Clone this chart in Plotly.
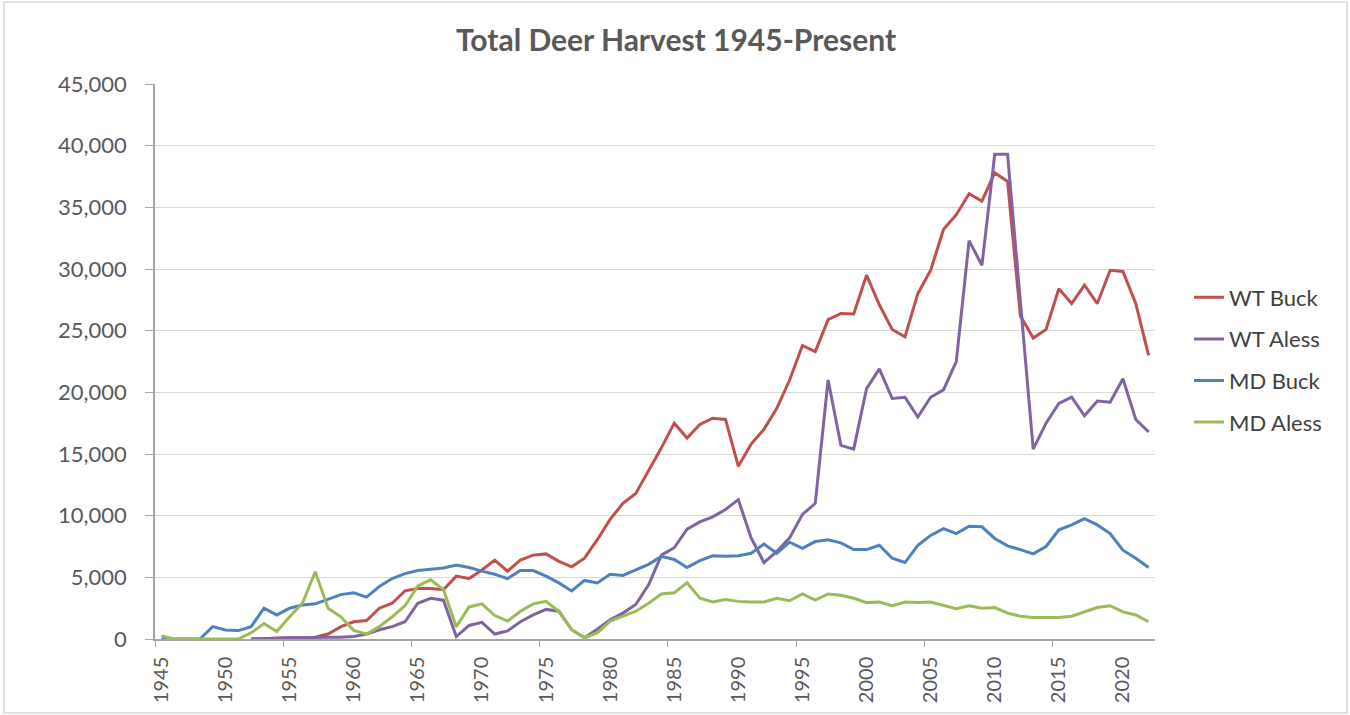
import plotly.graph_objects as go

years = list(range(1945, 2023))

wt_buck = [None, None, None, None, None, None, None,
           0, 50, 100, 100, 100, 150, 400, 1000,               # 1952-1959
           1400, 1500, 2500, 2900, 3900, 4100, 4100, 4000, 5100, 4900,   # 1960-1969
           5600, 6400, 5500, 6400, 6800, 6900, 6300, 5850, 6550, 8050,   # 1970-1979
           9700, 11000, 11800, 13600, 15500, 17500, 16300, 17400, 17900, 17800,  # 1980-1989
           14000, 15800, 17000, 18700, 21000, 23800, 23300, 25900, 26400, 26350,  # 1990-1999
           29500, 27100, 25100, 24500, 28000, 29900, 33200, 34400, 36100, 35500,  # 2000-2009
           37800, 37100, 26200, 24400, 25100, 28400, 27200, 28700, 27200, 29900,  # 2010-2019
           29800, 27200, 23000]                                                    # 2020-2022

wt_aless = [None, None, None, None, None, None, None,
            0, 50, 100, 100, 100, 150, 150, 150,
            200, 400, 750, 1000, 1400, 2900, 3300, 3150, 200, 1100,
            1350, 400, 650, 1400, 1950, 2400, 2250, 750, 100, 800,
            1550, 2100, 2800, 4400, 6800, 7400, 8900, 9500, 9900, 10500,
            11300, 8200, 6200, 7100, 8200, 10100, 11000, 21000, 15700, 15400,
            20300, 21900, 19500, 19600, 18000, 19600, 20200, 22500, 32300, 30300,
            39300, 39300, 27000, 15400, 17500, 19100, 19600, 18100, 19300, 19200,
            21100, 17800, 16800]

md_buck = [0, 0, 0, 0, 1000, 730, 680, 1000, 2500, 1950,
           2500, 2750, 2850, 3200, 3600, 3750, 3400, 4250, 4900, 5300,
           5550, 5650, 5750, 6000, 5800, 5500, 5250, 4900, 5550, 5550,
           5100, 4550, 3900, 4750, 4550, 5250, 5150, 5600, 6050, 6700,
           6450, 5800, 6350, 6750, 6700, 6750, 6950, 7700, 6950, 7850,
           7350, 7900, 8050, 7800, 7250, 7250, 7600, 6550, 6200, 7600,
           8400, 8950, 8550, 9150, 9100, 8150, 7550, 7250, 6900, 7500,
           8850, 9250, 9750, 9250, 8550, 7200, 6550, 5800]

md_aless = [250, 0, 0, 0, 0, 0, 0, 500, 1250, 600,
            1800, 2900, 5450, 2500, 1800, 700, 400, 1000, 1800, 2700,
            4300, 4800, 4000, 1000, 2600, 2850, 1900, 1450, 2250, 2850,
            3050, 2250, 750, 100, 500, 1450, 1850, 2250, 2900, 3650,
            3750, 4550, 3300, 3000, 3200, 3050, 3000, 3000, 3300, 3100,
            3650, 3150, 3650, 3550, 3300, 2950, 3000, 2700, 3000, 2950,
            3000, 2750, 2450, 2700, 2500, 2550, 2100, 1850, 1750, 1750,
            1750, 1850, 2200, 2550, 2700, 2200, 1950, 1400]

series = [("WT Buck", wt_buck, "#C0504D"),
          ("WT Aless", wt_aless, "#8064A2"),
          ("MD Buck", md_buck, "#4F81BD"),
          ("MD Aless", md_aless, "#9BBB59")]

x_ticks = list(range(1945, 2021, 5))
y_ticks = list(range(0, 45001, 5000))

fig = go.Figure()
for i, (name, vals, color) in enumerate(series):
    fig.add_trace(go.Scatter(x=years, y=vals, name=name, mode="lines",
                             line=dict(color=color, width=3),
                             legendgroup=name))

font_family = "Lato, 'Open Sans', sans-serif"
grey = "#595959"

fig.update_layout(
    width=1350, height=715,
    margin=dict(l=155, r=195, t=84, b=76),
    paper_bgcolor="white", plot_bgcolor="white",
    title=dict(text="<b>Total Deer Harvest 1945-Present</b>",
               x=676 / 1350, xref="container", xanchor="center",
               y=1 - 40 / 715, yref="container", yanchor="middle",
               font=dict(family=font_family, size=30, color=grey)),
    font=dict(family=font_family, color=grey),
    legend=dict(x=1.034, xanchor="left", y=(639 - 360) / 555, yanchor="middle",
                font=dict(size=22, color="#404040"),
                tracegroupgap=10, bgcolor="rgba(0,0,0,0)"),
    showlegend=True,
)

fig.update_xaxes(range=[1944.5, 2022.5], tickmode="array", tickvals=x_ticks,
                 ticktext=[str(t) for t in x_ticks], tickangle=-90,
                 tickfont=dict(size=20, color=grey),
                 ticklabelstandoff=8,
                 showgrid=False, zeroline=False, showline=True,
                 linecolor="#A6A6A6", linewidth=1.5, ticks="",
                 minor=dict(tickmode="array",
                            tickvals=[1944.5 + 10 * k for k in range(8)],
                            ticks="outside", ticklen=6, tickcolor="#A6A6A6",
                            showgrid=False))
fig.update_yaxes(range=[0, 45000], tickmode="array", tickvals=y_ticks,
                 ticktext=[f"{v:,}" for v in y_ticks],
                 tickfont=dict(size=22, color=grey),
                 ticklabelstandoff=14,
                 showgrid=True, gridcolor="#D9D9D9", gridwidth=1.2,
                 zeroline=False, showline=True, linecolor="#A6A6A6",
                 linewidth=1.5, ticks="outside", ticklen=8, tickcolor="#A6A6A6")

fig.add_shape(type="rect", xref="paper", yref="paper",
              x0=(4 - 155) / 1000, x1=(1347 - 155) / 1000,
              y0=(639 - 713) / 555, y1=(639 - 2) / 555,
              line=dict(color="#D9D9D9", width=1.5), layer="below")

fig.write_html("out.html",
               config={"displayModeBar": False},
               post_script="document.body.style.margin='0';"
                           "document.body.style.overflow='hidden';")
